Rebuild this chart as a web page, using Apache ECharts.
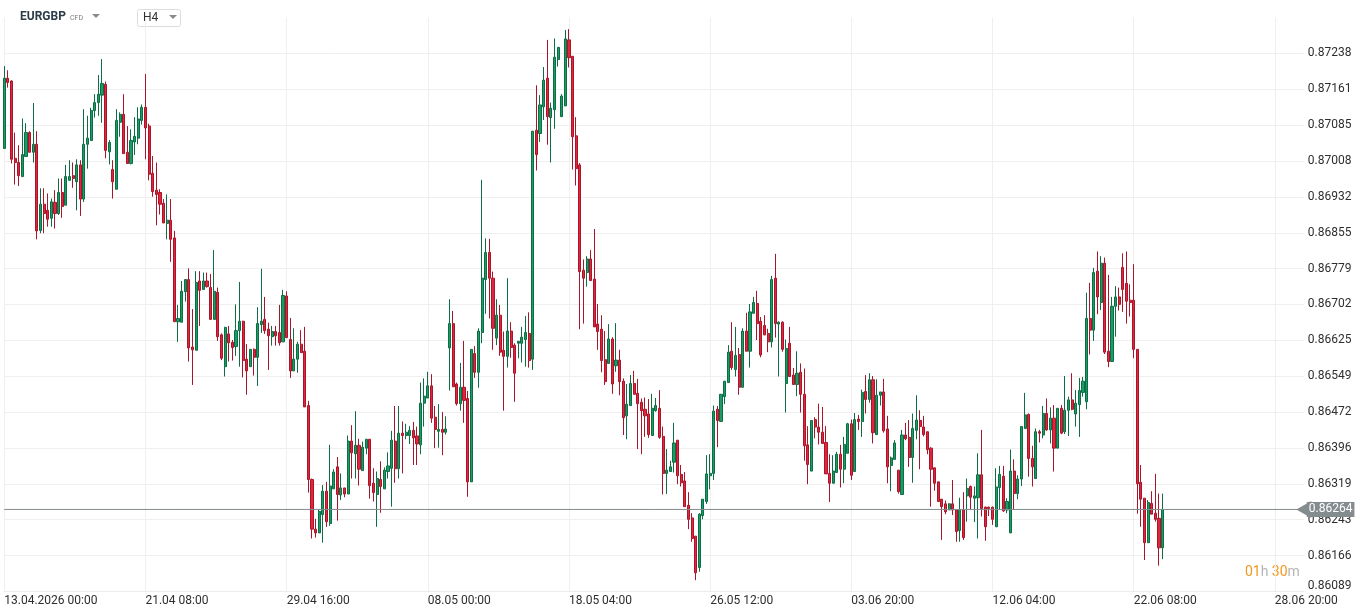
<!DOCTYPE html>
<html>
<head>
<meta charset="utf-8">
<script src="https://cdn.jsdelivr.net/npm/echarts@6/dist/echarts.min.js"></script>
<style>
html,body{margin:0;padding:0;background:#fff;}
#chart{width:1368px;height:616px;}
</style>
</head>
<body>
<div id="chart"></div>
<script>
// ---------------- DATA ----------------
const SYMBOL = 'EURGBP';
const TIMEFRAME = 'H4';
const CURRENT_PRICE = 0.86264;
const COUNTDOWN = ['01', '30'];

// x-axis labels (one every LABEL_EVERY candle slots)
const TIME_LABELS = ['13.04.2026 00:00', '21.04 08:00', '29.04 16:00', '08.05 00:00', '18.05 04:00',
  '26.05 12:00', '03.06 20:00', '12.06 04:00', '22.06 08:00', '28.06 20:00'];
const LABEL_EVERY = 39;
const SLOT_COUNT = 360;

// y-axis tick labels (bottom to top)
const TICK_LABELS = ['0.86089', '0.86166', '0.86243', '0.86319', '0.86396', '0.86472', '0.86549', '0.86625',
  '0.86702', '0.86779', '0.86855', '0.86932', '0.87008', '0.87085', '0.87161', '0.87238'];
const TICK_STEP = 0.000766;

const OPEN = [
0.87035,0.87185,0.87179,0.87014,0.87005,0.86975,0.87018,0.87069,0.87027,0.87044,
0.86860,0.86916,0.86903,0.86886,0.86920,0.86896,0.86941,0.86914,0.86967,0.86977,
0.86964,0.87000,0.86927,0.87044,0.87052,0.87116,0.87133,0.87149,0.87172,0.87028,
0.86990,0.86948,0.87091,0.87108,0.87027,0.87003,0.87049,0.87057,0.87095,0.87123,
0.87083,0.86982,0.86946,0.86941,0.86918,0.86875,0.86882,0.86844,0.86665,0.86664,
0.86729,0.86755,0.86611,0.86604,0.86752,0.86734,0.86752,0.86738,0.86670,0.86728,
0.86637,0.86569,0.86639,0.86621,0.86612,0.86646,0.86666,0.86585,0.86569,0.86606,
0.86589,0.86659,0.86670,0.86649,0.86633,0.86644,0.86642,0.86622,0.86720,0.86627,
0.86560,0.86585,0.86617,0.86602,0.86486,0.86328,0.86222,0.86214,0.86253,0.86303,
0.86234,0.86308,0.86355,0.86295,0.86310,0.86297,0.86410,0.86383,0.86401,0.86347,
0.86395,0.86414,0.86320,0.86296,0.86328,0.86308,0.86345,0.86352,0.86410,0.86351,
0.86427,0.86422,0.86422,0.86433,0.86421,0.86402,0.86491,0.86502,0.86528,
0.86461,0.86431,0.86435,0.86429,0.86609,0.86661,0.86532,0.86490,0.86525,0.86501,
0.86323,0.86597,0.86557,0.86642,0.86755,0.86813,0.86758,0.86630,0.86679,0.86604,
0.86591,0.86645,0.86615,0.86619,0.86619,0.86627,0.86640,0.86585,0.87074,0.87067,
0.87124,0.87185,0.87101,0.87118,0.87225,0.87103,0.87126,0.87267,0.87232,0.87062,
0.87000,0.86775,0.86770,0.86799,0.86756,0.86660,0.86649,0.86584,0.86576,0.86628,
0.86571,0.86583,0.86538,0.86464,0.86486,0.86533,0.86512,0.86493,0.86478,0.86468,
0.86422,0.86475,0.86480,0.86420,0.86341,0.86345,0.86365,0.86412,0.86339,0.86325,
0.86273,0.86246,0.86207,0.86140,0.86251,0.86281,0.86336,0.86341,0.86478,0.86452,
0.86505,0.86535,0.86602,0.86563,0.86595,0.86525,0.86645,0.86602,0.86683,0.86704,
0.86666,0.86657,0.86640,0.86622,0.86758,0.86660,0.86664,0.86533,0.86619,0.86551,
0.86531,0.86557,0.86510,0.86402,0.86346,0.86456,0.86440,0.86429,0.86407,0.86341,
0.86320,0.86343,0.86382,0.86350,0.86384,0.86447,0.86345,0.86457,0.86452,
0.86516,0.86499,0.86541,0.86424,0.86508,0.86515,0.86436,0.86358,0.86371,0.86348,
0.86296,0.86423,0.86418,0.86375,0.86433,0.86454,0.86440,0.86430,0.86395,0.86353,
0.86323,0.86286,0.86276,0.86263,0.86276,0.86263,0.86219,0.86263,0.86293,0.86313,
0.86288,0.86289,0.86338,0.86269,0.86269,0.86269,0.86227,0.86311,0.86335,0.86263,
0.86214,0.86346,0.86298,0.86329,0.86437,0.86467,0.86373,0.86330,0.86430,0.86423,
0.86469,0.86434,0.86459,0.86395,0.86480,0.86430,0.86476,0.86498,0.86468,
0.86488,0.86514,0.86494,0.86672,0.86647,0.86773,0.86706,0.86790,0.86602,0.86580,
0.86698,0.86718,0.86781,0.86747,0.86711,0.86711,0.86606,0.86322,0.86288,0.86193,
0.86277,0.86256,0.86245,0.86182
];
const HIGH = [
0.87211,0.87202,0.87181,0.87069,0.87042,0.87099,0.87089,0.87072,0.87132,0.87072,
0.86950,0.86950,0.86939,0.86928,0.86946,0.86971,0.86971,0.87000,0.87010,0.87005,
0.87012,0.87010,0.87119,0.87105,0.87122,0.87151,0.87192,0.87226,0.87178,0.87053,
0.87010,0.87119,0.87112,0.87151,0.87083,0.87076,0.87102,0.87123,0.87129,0.87194,
0.87088,0.87019,0.87005,0.86948,0.86927,0.86937,0.86927,0.86859,0.86701,0.86752,
0.86756,0.86779,0.86692,0.86773,0.86773,0.86770,0.86770,0.86767,0.86818,0.86738,
0.86640,0.86654,0.86656,0.86626,0.86702,0.86750,0.86667,0.86617,0.86606,0.86608,
0.86696,0.86778,0.86718,0.86663,0.86656,0.86656,0.86701,0.86733,0.86730,0.86673,
0.86651,0.86622,0.86647,0.86654,0.86496,0.86330,0.86244,0.86263,0.86316,0.86323,
0.86402,0.86350,0.86376,0.86341,0.86310,0.86422,0.86444,0.86474,0.86415,0.86409,
0.86414,0.86414,0.86352,0.86345,0.86367,0.86354,0.86386,0.86432,0.86485,0.86485,
0.86452,0.86447,0.86442,0.86451,0.86441,0.86535,0.86544,0.86558,0.86553,
0.86485,0.86489,0.86472,0.86463,0.86713,0.86688,0.86535,0.86577,0.86624,0.86517,
0.86606,0.86613,0.86651,0.86968,0.86843,0.86842,0.86772,0.86713,0.86701,0.86644,
0.86758,0.86664,0.86619,0.86624,0.86654,0.86677,0.86685,0.87072,0.87170,0.87149,
0.87209,0.87267,0.87133,0.87270,0.87251,0.87151,0.87288,0.87290,0.87232,0.87102,
0.87004,0.86798,0.86805,0.86818,0.86863,0.86703,0.86679,0.86645,0.86660,0.86632,
0.86662,0.86605,0.86544,0.86532,0.86551,0.86560,0.86543,0.86501,0.86503,0.86500,
0.86511,0.86502,0.86519,0.86441,0.86393,0.86368,0.86449,0.86412,0.86359,0.86344,
0.86301,0.86256,0.86207,0.86256,0.86286,0.86380,0.86382,0.86486,0.86485,0.86510,
0.86538,0.86615,0.86664,0.86654,0.86609,0.86651,0.86684,0.86703,0.86718,0.86731,
0.86675,0.86679,0.86650,0.86763,0.86810,0.86666,0.86666,0.86627,0.86654,0.86566,
0.86602,0.86576,0.86565,0.86442,0.86454,0.86461,0.86490,0.86483,0.86442,0.86382,
0.86380,0.86387,0.86402,0.86419,0.86449,0.86456,0.86470,0.86466,0.86520,
0.86551,0.86555,0.86549,0.86542,0.86515,0.86543,0.86464,0.86377,0.86412,0.86348,
0.86434,0.86449,0.86455,0.86469,0.86508,0.86476,0.86464,0.86430,0.86397,0.86353,
0.86323,0.86286,0.86283,0.86277,0.86327,0.86263,0.86289,0.86301,0.86330,0.86315,
0.86313,0.86384,0.86434,0.86270,0.86270,0.86270,0.86352,0.86357,0.86357,0.86288,
0.86392,0.86371,0.86337,0.86441,0.86513,0.86469,0.86400,0.86437,0.86434,0.86485,
0.86501,0.86482,0.86487,0.86480,0.86487,0.86549,0.86505,0.86555,0.86519,
0.86545,0.86547,0.86727,0.86748,0.86780,0.86815,0.86805,0.86802,0.86765,0.86718,
0.86741,0.86738,0.86811,0.86815,0.86745,0.86788,0.86606,0.86359,0.86288,0.86284,
0.86303,0.86340,0.86298,0.86298
];
const LOW = [
0.87034,0.87165,0.87003,0.86958,0.86955,0.86975,0.87018,0.87027,0.87005,0.86841,
0.86854,0.86854,0.86868,0.86868,0.86864,0.86893,0.86887,0.86914,0.86967,0.86951,
0.86903,0.86891,0.86921,0.86992,0.87052,0.87101,0.87105,0.87090,0.87014,0.87001,
0.86928,0.86948,0.87060,0.87024,0.87003,0.87001,0.87021,0.87044,0.87086,0.87012,
0.86967,0.86932,0.86871,0.86894,0.86876,0.86841,0.86793,0.86665,0.86622,0.86664,
0.86708,0.86580,0.86530,0.86604,0.86656,0.86734,0.86738,0.86670,0.86670,0.86624,
0.86583,0.86548,0.86580,0.86582,0.86592,0.86569,0.86546,0.86509,0.86569,0.86550,
0.86528,0.86641,0.86639,0.86562,0.86614,0.86614,0.86614,0.86622,0.86631,0.86545,
0.86560,0.86556,0.86599,0.86483,0.86300,0.86202,0.86204,0.86214,0.86193,0.86227,
0.86229,0.86308,0.86240,0.86284,0.86290,0.86297,0.86330,0.86330,0.86315,0.86347,
0.86382,0.86287,0.86281,0.86227,0.86257,0.86308,0.86330,0.86270,0.86321,0.86330,
0.86341,0.86414,0.86404,0.86359,0.86359,0.86382,0.86441,0.86502,0.86449,
0.86395,0.86396,0.86380,0.86424,0.86518,0.86526,0.86486,0.86475,0.86449,0.86291,
0.86323,0.86545,0.86524,0.86619,0.86682,0.86672,0.86605,0.86615,0.86592,0.86475,
0.86567,0.86588,0.86494,0.86587,0.86578,0.86569,0.86567,0.86562,0.86988,0.87049,
0.87096,0.87043,0.87005,0.87077,0.87210,0.87103,0.87126,0.87208,0.86990,0.86956,
0.86649,0.86661,0.86740,0.86753,0.86654,0.86605,0.86557,0.86530,0.86575,0.86511,
0.86558,0.86508,0.86423,0.86414,0.86486,0.86510,0.86393,0.86382,0.86419,0.86417,
0.86422,0.86473,0.86415,0.86296,0.86297,0.86345,0.86343,0.86318,0.86313,0.86270,
0.86222,0.86195,0.86113,0.86131,0.86243,0.86276,0.86307,0.86327,0.86397,0.86452,
0.86489,0.86535,0.86562,0.86548,0.86509,0.86525,0.86602,0.86567,0.86683,0.86626,
0.86589,0.86636,0.86600,0.86610,0.86631,0.86548,0.86601,0.86471,0.86548,0.86531,
0.86506,0.86471,0.86368,0.86318,0.86346,0.86416,0.86403,0.86405,0.86340,0.86280,
0.86320,0.86343,0.86311,0.86320,0.86384,0.86327,0.86345,0.86434,0.86419,
0.86469,0.86492,0.86405,0.86424,0.86486,0.86428,0.86320,0.86303,0.86371,0.86298,
0.86296,0.86412,0.86355,0.86321,0.86414,0.86350,0.86420,0.86382,0.86270,0.86304,
0.86281,0.86199,0.86254,0.86263,0.86252,0.86195,0.86195,0.86199,0.86238,0.86263,
0.86237,0.86202,0.86249,0.86197,0.86250,0.86231,0.86227,0.86263,0.86259,0.86256,
0.86214,0.86263,0.86286,0.86314,0.86437,0.86334,0.86313,0.86330,0.86407,0.86416,
0.86432,0.86405,0.86345,0.86395,0.86425,0.86425,0.86421,0.86476,0.86441,
0.86419,0.86505,0.86478,0.86595,0.86624,0.86681,0.86690,0.86596,0.86568,0.86580,
0.86633,0.86689,0.86686,0.86661,0.86676,0.86587,0.86255,0.86227,0.86156,0.86193,
0.86254,0.86238,0.86144,0.86158
];
const CLOSE = [
0.87185,0.87176,0.87012,0.87005,0.86977,0.87022,0.87069,0.87027,0.87044,0.86859,
0.86916,0.86896,0.86884,0.86921,0.86896,0.86941,0.86911,0.86975,0.86975,0.86971,
0.87000,0.86927,0.87044,0.87057,0.87116,0.87133,0.87151,0.87174,0.87031,0.87048,
0.86964,0.87095,0.87108,0.87024,0.87003,0.87052,0.87061,0.87098,0.87123,0.87079,
0.86980,0.86943,0.86937,0.86916,0.86876,0.86882,0.86841,0.86665,0.86672,0.86730,
0.86755,0.86609,0.86605,0.86749,0.86732,0.86752,0.86740,0.86670,0.86730,0.86633,
0.86587,0.86653,0.86620,0.86610,0.86646,0.86666,0.86582,0.86560,0.86606,0.86589,
0.86661,0.86666,0.86646,0.86635,0.86644,0.86635,0.86620,0.86721,0.86631,0.86560,
0.86585,0.86617,0.86599,0.86483,0.86328,0.86222,0.86214,0.86260,0.86303,0.86238,
0.86314,0.86344,0.86296,0.86310,0.86297,0.86410,0.86385,0.86401,0.86350,0.86397,
0.86414,0.86315,0.86300,0.86330,0.86313,0.86348,0.86357,0.86412,0.86351,0.86427,
0.86422,0.86429,0.86433,0.86417,0.86404,0.86491,0.86506,0.86528,0.86459,
0.86435,0.86435,0.86429,0.86436,0.86661,0.86526,0.86490,0.86525,0.86497,0.86323,
0.86606,0.86557,0.86645,0.86758,0.86813,0.86758,0.86651,0.86679,0.86600,0.86591,
0.86645,0.86610,0.86555,0.86623,0.86632,0.86642,0.86582,0.87072,0.87022,0.87128,
0.87181,0.87103,0.87121,0.87230,0.87251,0.87147,0.87269,0.87229,0.87060,0.86992,
0.86772,0.86758,0.86799,0.86753,0.86654,0.86644,0.86582,0.86537,0.86628,0.86532,
0.86583,0.86537,0.86460,0.86489,0.86533,0.86510,0.86490,0.86475,0.86464,0.86424,
0.86480,0.86486,0.86418,0.86341,0.86348,0.86355,0.86406,0.86336,0.86321,0.86270,
0.86243,0.86202,0.86129,0.86254,0.86286,0.86340,0.86341,0.86474,0.86454,0.86510,
0.86538,0.86600,0.86567,0.86593,0.86525,0.86645,0.86602,0.86686,0.86706,0.86661,
0.86594,0.86637,0.86622,0.86755,0.86661,0.86664,0.86606,0.86608,0.86548,0.86531,
0.86555,0.86510,0.86400,0.86360,0.86454,0.86440,0.86429,0.86405,0.86340,0.86320,
0.86346,0.86382,0.86350,0.86403,0.86447,0.86337,0.86456,0.86452,0.86514,
0.86499,0.86541,0.86428,0.86508,0.86515,0.86432,0.86355,0.86374,0.86406,0.86302,
0.86423,0.86415,0.86375,0.86437,0.86455,0.86441,0.86424,0.86392,0.86350,0.86320,
0.86281,0.86270,0.86259,0.86276,0.86263,0.86217,0.86264,0.86204,0.86309,0.86290,
0.86293,0.86338,0.86266,0.86227,0.86266,0.86243,0.86312,0.86339,0.86261,0.86281,
0.86346,0.86298,0.86329,0.86441,0.86466,0.86373,0.86355,0.86430,0.86427,0.86469,
0.86434,0.86459,0.86395,0.86480,0.86427,0.86476,0.86498,0.86478,0.86491,
0.86518,0.86538,0.86672,0.86647,0.86770,0.86718,0.86790,0.86600,0.86580,0.86698,
0.86718,0.86702,0.86734,0.86709,0.86706,0.86606,0.86319,0.86286,0.86193,0.86279,
0.86254,0.86243,0.86182,0.86264
];

// ---------------- CHART ----------------
const BASE = parseFloat(TICK_LABELS[0]);
const rel = p => p - BASE;
const categories = Array.from({ length: SLOT_COUNT }, (_, i) => String(i));
const candles = OPEN.map((o, i) => [rel(o), rel(CLOSE[i]), rel(LOW[i]), rel(HIGH[i])]);
const Y_MAX = TICK_STEP * TICK_LABELS.length - 1e-7;

const FONT = 'Roboto, "Noto Sans", sans-serif';
const LINE_GREY = '#848c90';
const chart = echarts.init(document.getElementById('chart'), null, { renderer: 'canvas' });

const option = {
  animation: false,
  backgroundColor: '#ffffff',
  grid: { left: 4.3, right: 64.2, top: 17.6, bottom: 24.6, containLabel: false },
  xAxis: {
    type: 'category',
    data: categories,
    boundaryGap: false,
    axisLine: { show: true, lineStyle: { color: '#ececec', width: 1 } },
    axisTick: { show: false },
    axisLabel: {
      interval: (i) => i % LABEL_EVERY === 0,
      formatter: (v, i) => TIME_LABELS[Math.round(i / LABEL_EVERY)] || '',
      align: 'left',
      margin: 4,
      color: '#2e2e2e',
      fontSize: 12,
      fontFamily: FONT,
      hideOverlap: false
    },
    splitLine: {
      show: true,
      interval: (i) => i % LABEL_EVERY === 0,
      lineStyle: { color: '#efefef', width: 1 }
    }
  },
  yAxis: {
    type: 'value',
    position: 'right',
    min: 0,
    max: Y_MAX,
    interval: TICK_STEP,
    axisLine: { show: false },
    axisTick: { show: false },
    axisLabel: {
      margin: 4,
      showMaxLabel: false,
      color: '#2e2e2e',
      fontSize: 12,
      fontFamily: FONT,
      formatter: (v) => {
        const k = Math.round(v / TICK_STEP);
        if (k < 0 || k >= TICK_LABELS.length || Math.abs(v - k * TICK_STEP) > TICK_STEP * 0.02) return '';
        return k === 0 ? '{low|' + TICK_LABELS[0] + '}' : TICK_LABELS[k];
      },
      rich: { low: { fontSize: 12, fontFamily: FONT, color: '#2e2e2e', padding: [0, 0, 10, 0] } }
    },
    splitLine: { show: true, showMaxLine: false, lineStyle: { color: '#efefef', width: 1 } }
  },
  series: [{
    type: 'candlestick',
    data: candles,
    barWidth: 2.6,
    z: 2,
    itemStyle: {
      color: '#1b9c66',
      color0: '#e3243b',
      borderColor: '#0d6d45',
      borderColor0: '#a8162b',
      borderWidth: 1
    }
  }, {
    type: 'line',
    z: 3,
    silent: true,
    clip: false,
    lineStyle: { color: LINE_GREY, width: 1 },
    itemStyle: { color: LINE_GREY },
    symbol: 'triangle',
    symbolSize: [17, 15],
    symbolRotate: 90,
    showSymbol: true,
    showAllSymbol: true,
    data: [
      { value: [0, rel(CURRENT_PRICE)], symbol: 'none' },
      { value: [SLOT_COUNT - 1, rel(CURRENT_PRICE)] }
    ],
    endLabel: {
      show: true,
      distance: 3,
      formatter: () => CURRENT_PRICE.toFixed(5),
      backgroundColor: LINE_GREY,
      color: '#ffffff',
      fontSize: 12,
      fontFamily: FONT,
      padding: [2, 2, 1, 2]
    }
  }],
  graphic: [
    { type: 'text', left: 20, top: 11, style: { text: SYMBOL, font: 'bold 12px ' + FONT, fill: '#2b3b47' } },
    { type: 'text', left: 70, top: 15, style: { text: 'CFD', font: '7px ' + FONT, fill: '#7a7a7a' } },
    { type: 'polygon', shape: { points: [[92, 14], [100, 14], [96, 18]] }, style: { fill: '#8a8a8a' } },
    { type: 'rect', shape: { x: 137.5, y: 9.5, width: 43, height: 17, r: 2 }, style: { fill: '#ffffff', stroke: '#dcdcdc', lineWidth: 1 } },
    { type: 'text', left: 143, top: 12, style: { text: TIMEFRAME, font: '12px ' + FONT, fill: '#333333' } },
    { type: 'polygon', shape: { points: [[169, 15], [177, 15], [173, 19]] }, style: { fill: '#8a8a8a' } },
    {
      type: 'text', left: 1245, top: 565,
      style: {
        text: '{o|' + COUNTDOWN[0] + '}{g|h} {o|' + COUNTDOWN[1] + '}{g|m}',
        rich: {
          o: { font: '14px ' + FONT, fill: '#f5961f' },
          g: { font: '14px ' + FONT, fill: '#b5b5b5' }
        }
      }
    }
  ]
};
chart.setOption(option);
</script>
</body>
</html>
